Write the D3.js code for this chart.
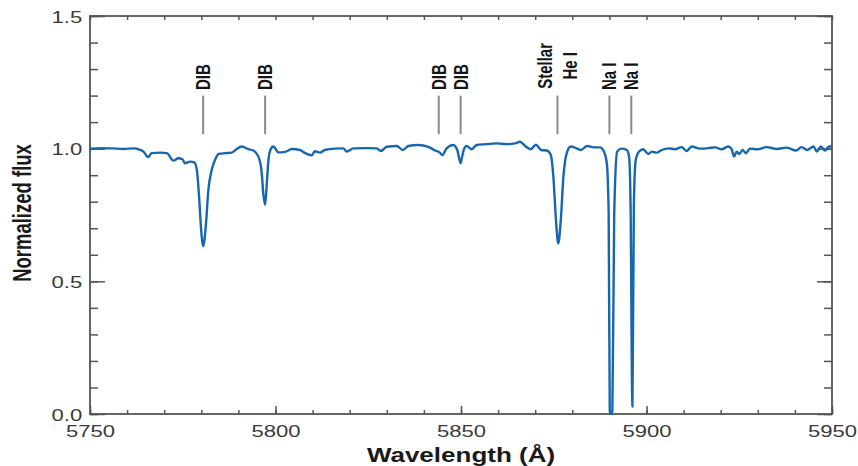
<!DOCTYPE html>
<html lang="en">
<head>
  <meta charset="UTF-8">
  <title>Normalized flux spectrum</title>
  <style>
    body { margin: 0; background: #fff; }
    text { font-family: "Liberation Sans", Arial, sans-serif; }
  </style>
</head>
<body>
  <svg class="spectrum"></svg>
  <script src="https://cdn.jsdelivr.net/npm/d3@7/dist/d3.min.js"></script>
  <script>
    // spectrum
    var wavelength = [5750, 5753, 5756, 5759, 5762, 5763.0, 5764.4, 5765.7, 5766.6, 5768.9, 5770.7,
      5772.5, 5773.8, 5774.9, 5775.6, 5777.0, 5778.1, 5778.8, 5779.4, 5779.9, 5780.5, 5781.2, 5781.9,
      5782.8, 5783.9, 5784.6, 5786.4, 5788.2, 5789.5, 5790.9, 5792.7, 5794.0, 5795.4, 5796.3, 5796.7,
      5797.2, 5797.6, 5798.1, 5798.7, 5799.4, 5800.8, 5802.6, 5804.4, 5806.6, 5808.0, 5809.8, 5810.6,
      5812.0, 5813.3, 5816.0, 5818.3, 5819.2, 5821.0, 5824.6, 5827.3, 5828.4, 5830.0, 5832.7, 5834.3,
      5835.8, 5838.5, 5841.2, 5843.0, 5844.3, 5845.0, 5846.1, 5847.9, 5849.0, 5849.5, 5849.9, 5850.3,
      5850.8, 5851.5, 5852.9, 5854.2, 5856.9, 5859.6, 5862.3, 5864.6, 5865.9, 5867.3, 5868.8, 5870.2,
      5871.6, 5873.1, 5874.2, 5874.9, 5875.6, 5876.2, 5876.9, 5877.6, 5878.5, 5879.6, 5881.2, 5882.3,
      5884.0, 5885.8, 5887.5, 5888.4, 5889.3, 5889.8, 5890.1, 5890.4, 5890.8, 5891.3, 5892.1, 5893.3,
      5894.7, 5895.3, 5895.7, 5896.2, 5896.6, 5897.1, 5898.0, 5899.1, 5900.5, 5901.4, 5902.7, 5904.1,
      5905.9, 5907.7, 5909.5, 5910.8, 5912.2, 5914.4, 5916.7, 5918.5, 5920.3, 5922.0, 5922.9, 5923.6,
      5924.3, 5925.0, 5925.9, 5926.8, 5927.9, 5930.1, 5932.4, 5935.1, 5937.8, 5940.3, 5941.8, 5943.3,
      5945.0, 5945.9, 5947.0, 5948.1, 5949.0, 5950];
    var flux = [1.000, 1.002, 1.001, 0.999, 1.001, 0.998, 0.989, 0.968, 0.983, 0.985, 0.983,
      0.955, 0.964, 0.960, 0.945, 0.951, 0.948, 0.920, 0.819, 0.706, 0.633, 0.706, 0.844,
      0.920, 0.964, 0.980, 0.983, 0.985, 0.998, 1.008, 0.998, 0.993, 0.970, 0.907, 0.832,
      0.788, 0.857, 0.957, 0.998, 1.008, 0.986, 0.988, 0.999, 0.995, 0.983, 0.975, 0.990,
      0.985, 0.995, 1.000, 1.001, 0.989, 1.001, 1.002, 1.001, 0.991, 1.007, 1.010, 0.995,
      1.010, 1.014, 1.007, 0.993, 0.985, 0.976, 1.001, 1.014, 0.995, 0.963, 0.945, 0.970,
      0.998, 1.010, 0.998, 1.014, 1.017, 1.020, 1.017, 1.020, 1.026, 1.010, 0.998, 1.015,
      0.995, 0.993, 0.976, 0.894, 0.731, 0.643, 0.731, 0.894, 0.983, 1.008, 1.001, 0.995,
      1.010, 1.005, 1.005, 0.993, 0.945, 0.756, 0.010, 0.000, 0.010, 0.756, 0.989, 1.000,
      0.995, 0.970, 0.794, 0.028, 0.794, 0.957, 0.989, 0.998, 0.980, 0.989, 0.985, 0.995,
      1.001, 0.998, 1.006, 0.991, 1.008, 1.000, 1.002, 1.005, 0.998, 1.008, 1.000, 0.970,
      0.989, 0.980, 0.995, 0.983, 1.000, 0.998, 1.006, 0.999, 1.004, 0.993, 1.006, 0.995,
      1.008, 0.989, 1.008, 0.993, 1.006, 1.010];

    // identified features
    var featureWave = [5780.5, 5797.2, 5844.0, 5849.9, 5876.0, 5890.0, 5895.9];
    var featureLabel = [["DIB"], ["DIB"], ["DIB"], ["DIB"], ["Stellar", "He I"], ["Na I"], ["Na I"]];

    var xMajor = [5750, 5800, 5850, 5900, 5950];
    var yMajor = [0.0, 0.5, 1.0, 1.5];

    var svgWidth = 858, svgHeight = 466;
    var plotLeft = 90, plotRight = 832, plotTop = 16, plotBottom = 414;
    var stretch = 1.3; // text in the picture is wider than tall

    var svg = d3.select('svg')
      .attr('width', svgWidth)
      .attr('height', svgHeight);

    var xScale = d3.scaleLinear().domain([5750, 5950]).range([plotLeft, plotRight]);
    var yScale = d3.scaleLinear().domain([0, 1.5]).range([plotBottom, plotTop]);

    var xMinor = d3.range(5750, 5951, 10);
    var yMinor = d3.range(0, 16).map(d => d / 10);

    // ticks, all pointing inwards
    function tickStyle(g) {
      g.select('.domain').remove();
      g.selectAll('line').attr('stroke', '#555').attr('stroke-width', 1.5);
    }
    svg.append('g').attr('transform', `translate(0, ${plotBottom})`)
      .call(d3.axisBottom(xScale).tickValues(xMinor).tickSize(-4).tickFormat(''))
      .call(tickStyle);
    svg.append('g').attr('transform', `translate(0, ${plotTop})`)
      .call(d3.axisTop(xScale).tickValues(xMinor).tickSize(-4).tickFormat(''))
      .call(tickStyle);
    svg.append('g').attr('transform', `translate(${plotLeft}, 0)`)
      .call(d3.axisLeft(yScale).tickValues(yMinor).tickSize(-8).tickFormat(''))
      .call(tickStyle);
    svg.append('g').attr('transform', `translate(${plotRight}, 0)`)
      .call(d3.axisRight(yScale).tickValues(yMinor).tickSize(-8).tickFormat(''))
      .call(tickStyle);

    var xAxis = svg.append('g').attr('transform', `translate(0, ${plotBottom})`)
      .call(d3.axisBottom(xScale).tickValues(xMajor).tickSize(-8).tickPadding(11).tickFormat(d3.format('d')))
      .call(tickStyle);
    var yAxis = svg.append('g').attr('transform', `translate(${plotLeft}, 0)`)
      .call(d3.axisLeft(yScale).tickValues(yMajor).tickSize(-15).tickPadding(6).tickFormat(d3.format('.1f')))
      .call(tickStyle);
    svg.append('g').attr('transform', `translate(${plotRight}, 0)`)
      .call(d3.axisRight(yScale).tickValues(yMajor).tickSize(-15).tickFormat(''))
      .call(tickStyle);

    [xAxis, yAxis].forEach(function (g) {
      g.selectAll('text')
        .attr('font-family', '"Liberation Sans", Arial, sans-serif')
        .attr('font-size', 17)
        .attr('fill', '#3a3a3a')
        .attr('transform', `scale(${stretch},1)`);
    });
    yAxis.selectAll('text').attr('dy', '0.36em');

    // frame
    svg.append('rect')
      .attr('x', plotLeft).attr('y', plotTop)
      .attr('width', plotRight - plotLeft).attr('height', plotBottom - plotTop)
      .attr('fill', 'none').attr('stroke', '#555').attr('stroke-width', 1.8);

    // spectrum
    svg.append('clipPath').attr('id', 'plot-area')
      .append('rect').attr('x', plotLeft).attr('y', plotTop - 2)
      .attr('width', plotRight - plotLeft).attr('height', plotBottom - plotTop + 4);

    var line = d3.line()
      .x((d, i) => xScale(wavelength[i]))
      .y(d => yScale(d))
      .curve(d3.curveMonotoneX);

    svg.append('path')
      .datum(flux)
      .attr('clip-path', 'url(#plot-area)')
      .attr('d', line)
      .attr('fill', 'none')
      .attr('stroke', '#1766b0')
      .attr('stroke-width', 2.4)
      .attr('stroke-linejoin', 'round');

    // feature markers
    svg.selectAll('.marker')
      .data(featureWave)
      .enter()
      .append('line')
      .attr('class', 'marker')
      .attr('x1', d => xScale(d)).attr('x2', d => xScale(d))
      .attr('y1', yScale(1.2)).attr('y2', yScale(1.055))
      .attr('stroke', '#8a8a8a')
      .attr('stroke-width', 2);

    var labels = svg.selectAll('.feature')
      .data(featureWave)
      .enter()
      .append('text')
      .attr('class', 'feature')
      .attr('font-size', 15)
      .attr('font-weight', 'bold')
      .attr('fill', '#151515')
      .attr('text-anchor', (d, i) => featureLabel[i].length > 1 ? 'middle' : 'start')
      .attr('transform', function (d, i) {
        var y = featureLabel[i].length > 1 ? yScale(1.312) : yScale(1.221);
        return `translate(${xScale(d)}, ${y}) scale(${stretch},1) rotate(-90)`;
      });

    labels.each(function (d, i) {
      var rows = featureLabel[i];
      var gap = 19;
      d3.select(this).selectAll('tspan')
        .data(rows)
        .enter()
        .append('tspan')
        .attr('x', 0)
        .attr('y', (r, j) => (j - (rows.length - 1) / 2) * gap)
        .attr('dy', '0.36em')
        .text(r => r);
    });

    // axis titles
    svg.append('text')
      .attr('transform', `translate(${(plotLeft + plotRight) / 2}, 462) scale(${stretch},1)`)
      .attr('text-anchor', 'middle')
      .attr('font-size', 20)
      .attr('font-weight', 'bold')
      .attr('fill', '#1a1a1a')
      .text('Wavelength (Å)');

    svg.append('text')
      .attr('transform', `translate(22, ${(plotTop + plotBottom) / 2 - 2}) scale(1.4,1) rotate(-90)`)
      .attr('text-anchor', 'middle')
      .attr('dy', '0.36em')
      .attr('font-size', 18.5)
      .attr('font-weight', 'bold')
      .attr('fill', '#1a1a1a')
      .text('Normalized flux');
  </script>
</body>
</html>
